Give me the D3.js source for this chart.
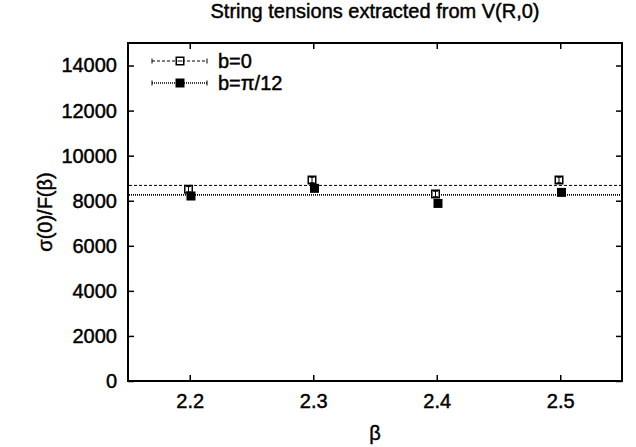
<!DOCTYPE html>
<html>
<head>
<meta charset="utf-8">
<script src="https://cdn.jsdelivr.net/npm/d3@7"></script>
<style>
  html, body { margin: 0; padding: 0; background: #fff; }
  svg { display: block; }
  text { font-family: "Liberation Sans", Arial, Helvetica, sans-serif; fill: #000; stroke: #000; stroke-width: 0.45px; }
</style>
</head>
<body>
<svg id="chart" width="636" height="447"></svg>
<script>
// ---- data ----
const betaTicks = [2.2, 2.3, 2.4, 2.5];
const yTicks = [0, 2000, 4000, 6000, 8000, 10000, 12000, 14000];
const betaB0 = [2.199, 2.299, 2.399, 2.499];
const valuesB0 = [8510, 8920, 8300, 8920];
const errorsB0 = [120, 120, 120, 120];
const betaBPi = [2.201, 2.301, 2.401, 2.501];
const valuesBPi = [8210, 8550, 7880, 8370];
const errorsBPi = [120, 120, 120, 120];
const fitB0 = 8680;
const fitBPi = 8260;
const seriesNames = ["b=0", "b=\u03C0/12"];
const titleText = "String tensions extracted from V(R,0)";
const xLabel = "\u03B2";
const yLabel = "\u03C3(0)/F(\u03B2)";

// ---- layout ----
const svg = d3.select("#chart");
const L = 128, R = 622, T = 43, B = 381;
const x = d3.scaleLinear().domain([2.15, 2.55]).range([L, R]);
const y = d3.scaleLinear().domain([0, 15000]).range([B, T]);
const fontSize = 20;
const tickLen = 6;

// title
svg.append("text").attr("x", (L + R) / 2).attr("y", 18)
  .attr("text-anchor", "middle").style("font-size", fontSize + "px").text(titleText);

// axes (ticks inward, mirrored)
const xb = svg.append("g").attr("transform", `translate(0,${B})`)
  .call(d3.axisBottom(x).tickValues(betaTicks).tickSizeInner(-tickLen).tickSizeOuter(0).tickPadding(13).tickFormat(d3.format(".1f")));
const xt = svg.append("g").attr("transform", `translate(0,${T})`)
  .call(d3.axisTop(x).tickValues(betaTicks).tickSizeInner(-tickLen).tickSizeOuter(0).tickFormat(""));
const yl = svg.append("g").attr("transform", `translate(${L},0)`)
  .call(d3.axisLeft(y).tickValues(yTicks).tickSizeInner(-tickLen).tickSizeOuter(0).tickPadding(11).tickFormat(d3.format("d")));
const yr = svg.append("g").attr("transform", `translate(${R},0)`)
  .call(d3.axisRight(y).tickValues(yTicks).tickSizeInner(-tickLen).tickSizeOuter(0).tickFormat(""));
[xb, xt, yl, yr].forEach(g => {
  g.select(".domain").remove();
  g.selectAll(".tick line").attr("stroke", "#000").attr("stroke-width", 1.5);
  g.selectAll(".tick text").style("font-size", fontSize + "px").attr("fill", "#000");
});

// frame
svg.append("rect").attr("x", L).attr("y", T).attr("width", R - L).attr("height", B - T)
  .attr("fill", "none").attr("stroke", "#000").attr("stroke-width", 2);

// axis labels
svg.append("text").attr("x", (L + R) / 2).attr("y", 440)
  .attr("text-anchor", "middle").style("font-size", fontSize + "px").text(xLabel);
svg.append("text").attr("transform", `translate(52,${(T + B) / 2}) rotate(-90)`)
  .attr("text-anchor", "middle").style("font-size", fontSize + "px").text(yLabel);

// styles
const styles = [
  { dash: "3,2", width: 1, filled: false },
  { dash: "1,1", width: 1.6, filled: true }
];

// fit lines
const plot = svg.append("g");
[fitB0, fitBPi].forEach((v, i) => {
  plot.append("line").attr("x1", L + 1).attr("x2", R - 1).attr("y1", y(v)).attr("y2", y(v))
    .attr("stroke", "#000").attr("stroke-width", styles[i].width).attr("stroke-dasharray", styles[i].dash);
});

const sq = 9;
function drawSeries(xs, vals, errs, st) {
  const g = plot.append("g");
  xs.forEach((b, i) => {
    const cx = x(b), cy = y(vals[i]);
    const hi = y(vals[i] + errs[i]), lo = y(vals[i] - errs[i]);
    if (st.filled) {
      g.append("rect").attr("x", cx - sq / 2).attr("y", cy - sq / 2).attr("width", sq).attr("height", sq)
        .attr("fill", "#000");
    } else {
      g.append("rect").attr("x", cx - sq / 2 + 0.75).attr("y", cy - sq / 2 + 0.75).attr("width", sq - 1.5).attr("height", sq - 1.5)
        .attr("fill", "#fff").attr("stroke", "#000").attr("stroke-width", 1.5);
      g.append("line").attr("x1", cx).attr("x2", cx).attr("y1", hi).attr("y2", lo).attr("stroke", "#000").attr("stroke-width", 1);
      g.append("line").attr("x1", cx - 2.5).attr("x2", cx + 2.5).attr("y1", hi).attr("y2", hi).attr("stroke", "#000").attr("stroke-width", 1);
      g.append("line").attr("x1", cx - 2.5).attr("x2", cx + 2.5).attr("y1", lo).attr("y2", lo).attr("stroke", "#000").attr("stroke-width", 1);
    }
  });
}
drawSeries(betaB0, valuesB0, errorsB0, styles[0]);
drawSeries(betaBPi, valuesBPi, errorsBPi, styles[1]);

// legend
const legRows = [61, 83];
const lx1 = 152, lx2 = 207, lxm = 180, ltx = 218;
seriesNames.forEach((name, i) => {
  const ly = legRows[i], st = styles[i];
  const g = svg.append("g");
  g.append("line").attr("x1", lx1).attr("x2", lx2).attr("y1", ly).attr("y2", ly)
    .attr("stroke", "#000").attr("stroke-width", st.width).attr("stroke-dasharray", st.dash);
  [lx1, lx2].forEach(xx => g.append("line").attr("x1", xx).attr("x2", xx).attr("y1", ly - 2.5).attr("y2", ly + 2.5)
    .attr("stroke", "#000").attr("stroke-width", 1));
  if (st.filled) {
    g.append("rect").attr("x", lxm - sq / 2).attr("y", ly - sq / 2).attr("width", sq).attr("height", sq).attr("fill", "#000");
  } else {
    g.append("rect").attr("x", lxm - sq / 2 + 0.75).attr("y", ly - sq / 2 + 0.75).attr("width", sq - 1.5).attr("height", sq - 1.5)
      .attr("fill", "#fff").attr("stroke", "#000").attr("stroke-width", 1.5);
    g.append("line").attr("x1", lxm - 2.5).attr("x2", lxm + 2.5).attr("y1", ly).attr("y2", ly).attr("stroke", "#000").attr("stroke-width", 1);
  }
  g.append("text").attr("x", ltx).attr("y", ly + 7).style("font-size", fontSize + "px").text(name);
});
</script>
</body>
</html>
